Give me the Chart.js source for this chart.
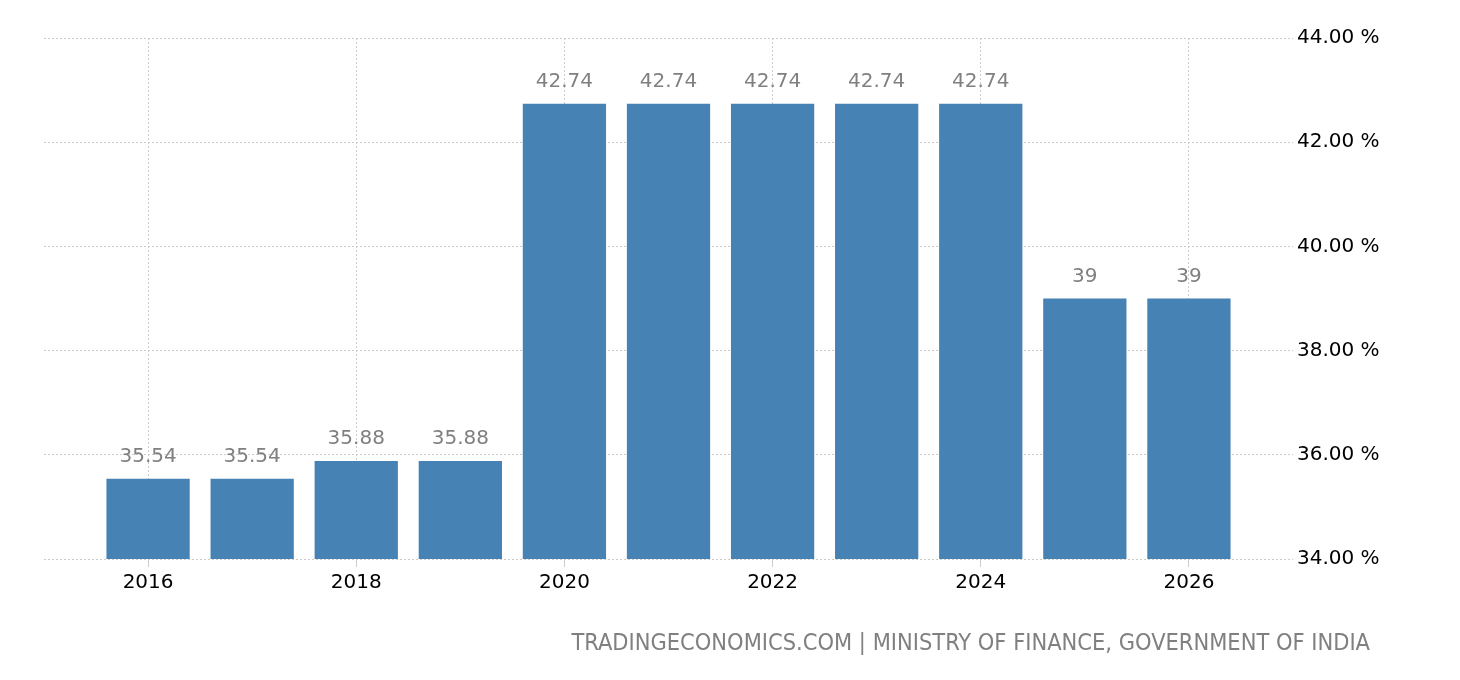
<!DOCTYPE html>
<html>
<head>
<meta charset="utf-8">
<script src="https://cdn.jsdelivr.net/npm/chart.js@4"></script>
<style>
  html, body { margin: 0; padding: 0; background: #fff; }
  #wrap { position: relative; width: 1460px; height: 680px; }
  #source {
    position: absolute; right: 90px; top: 628px;
    font-family: "DejaVu Sans Condensed", "DejaVu Sans", sans-serif;
    font-size: 23.4px; color: #808080; white-space: nowrap;
  }
</style>
</head>
<body>
<div id="wrap">
  <canvas id="chart" width="1460" height="680"></canvas>
  <div id="source">TRADINGECONOMICS.COM | MINISTRY OF FINANCE, GOVERNMENT OF INDIA</div>
</div>
<script>
const years = [2016, 2017, 2018, 2019, 2020, 2021, 2022, 2023, 2024, 2025, 2026];
const rates = [35.54, 35.54, 35.88, 35.88, 42.74, 42.74, 42.74, 42.74, 42.74, 39, 39];
const yTicks = [34, 36, 38, 40, 42, 44];

// one empty year on each side so the axis runs from 2015 to 2027
const labels = [years[0] - 1, ...years, years[years.length - 1] + 1].map(String);
const values = [null, ...rates, null];

const fontFamily = "'DejaVu Sans', sans-serif";
const gridColor = "#cccccc";

const barLabels = {
  id: "barLabels",
  afterDatasetsDraw(chart) {
    const ctx = chart.ctx;
    const meta = chart.getDatasetMeta(0);
    ctx.save();
    ctx.font = "20px " + fontFamily;
    ctx.fillStyle = "#808080";
    ctx.textAlign = "center";
    ctx.textBaseline = "alphabetic";
    meta.data.forEach((bar, i) => {
      const v = values[i];
      if (v === null) return;
      ctx.fillText(String(v), bar.x, bar.y - 17);
    });
    ctx.restore();
  }
};

function isShownYear(label) {
  const y = Number(label);
  return y % 2 === 0 && y >= years[0] && y <= years[years.length - 1];
}

new Chart(document.getElementById("chart"), {
  type: "bar",
  data: {
    labels: labels,
    datasets: [{
      data: values,
      backgroundColor: "#4682b4",
      borderWidth: 0,
      barPercentage: 0.8,
      categoryPercentage: 1
    }]
  },
  options: {
    responsive: false,
    animation: false,
    layout: { padding: { top: 38, left: 44, right: 0, bottom: 81 } },
    plugins: { legend: { display: false }, tooltip: { enabled: false } },
    scales: {
      x: {
        offset: false,
        border: { display: false, dash: [2, 2] },
        grid: {
          offset: false,
          tickLength: 8,
          lineWidth: 1,
          color: (c) => (c.tick && isShownYear(labels[c.index])) ? gridColor : "rgba(0,0,0,0)"
        },
        ticks: {
          autoSkip: false,
          maxRotation: 0,
          padding: 4,
          color: "#000",
          font: { family: fontFamily, size: 20 },
          callback: (val, i) => isShownYear(labels[i]) ? labels[i] : ""
        },
        afterFit(scale) { scale.height = 40; }
      },
      y: {
        position: "right",
        min: Math.min(...yTicks),
        max: Math.max(...yTicks),
        border: { display: false, dash: [2, 2] },
        grid: { color: gridColor, drawTicks: false },
        ticks: {
          stepSize: 2,
          padding: 4,
          color: "#000",
          font: { family: fontFamily, size: 20 },
          callback: (v) => v.toFixed(2) + " %"
        },
        afterFit(scale) { scale.width = 167; }
      }
    }
  },
  plugins: [barLabels]
});
</script>
</body>
</html>
